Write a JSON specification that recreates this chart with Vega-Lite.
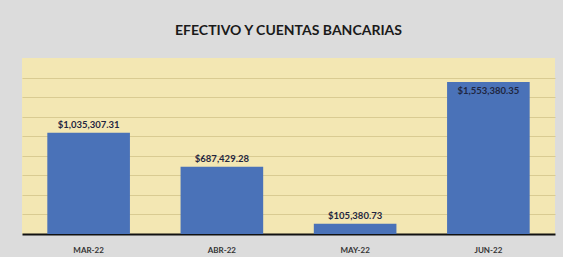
{
  "$schema": "https://vega.github.io/schema/vega-lite/v6.json",
  "width": 533,
  "height": 176,
  "autosize": {"type": "none"},
  "padding": {"left": 22, "top": 58, "right": 8, "bottom": 23},
  "background": "#dcdcdc",
  "view": {"fill": "#f3e7b3", "stroke": null},
  "title": {
    "text": "EFECTIVO Y CUENTAS BANCARIAS",
    "font": "Lato",
    "fontSize": 14,
    "fontWeight": "bold",
    "color": "#1a1a1a",
    "offset": 20
  },
  "data": {
    "values": [
      {"mes": "MAR-22", "monto": 1035307.31, "etiqueta": "$1,035,307.31", "pos": "arriba"},
      {"mes": "ABR-22", "monto": 687429.28, "etiqueta": "$687,429.28", "pos": "arriba"},
      {"mes": "MAY-22", "monto": 105380.73, "etiqueta": "$105,380.73", "pos": "arriba"},
      {"mes": "JUN-22", "monto": 1553380.35, "etiqueta": "$1,553,380.35", "pos": "dentro"}
    ]
  },
  "encoding": {
    "x": {
      "field": "mes",
      "type": "nominal",
      "sort": null,
      "scale": {"paddingInner": 0.38, "paddingOuter": 0.19},
      "axis": {
        "title": null,
        "labelAngle": 0,
        "labelFont": "Lato",
        "labelFontWeight": "bold",
        "labelFontSize": 8,
        "labelColor": "#333333",
        "labelPadding": 12,
        "ticks": false,
        "domainColor": "#111111",
        "domainWidth": 2
      }
    },
    "y": {
      "field": "monto",
      "type": "quantitative",
      "scale": {"domain": [0, 1800000], "nice": false},
      "axis": {
        "title": null,
        "labels": false,
        "ticks": false,
        "domain": false,
        "values": [200000, 400000, 600000, 800000, 1000000, 1200000, 1400000, 1600000],
        "gridColor": "#d9cb92",
        "gridWidth": 1
      }
    }
  },
  "layer": [
    {"mark": {"type": "bar", "color": "#4a72b8"}},
    {
      "transform": [{"filter": "datum.pos == 'arriba'"}],
      "mark": {"type": "text", "dy": -8, "font": "Lato", "fontWeight": "bold", "fontSize": 9.5, "color": "#1f2640"},
      "encoding": {"text": {"field": "etiqueta"}}
    },
    {
      "transform": [{"filter": "datum.pos == 'dentro'"}],
      "mark": {"type": "text", "dy": 9, "font": "Lato", "fontWeight": "bold", "fontSize": 9.5, "color": "#1f2640"},
      "encoding": {"text": {"field": "etiqueta"}}
    }
  ]
}
